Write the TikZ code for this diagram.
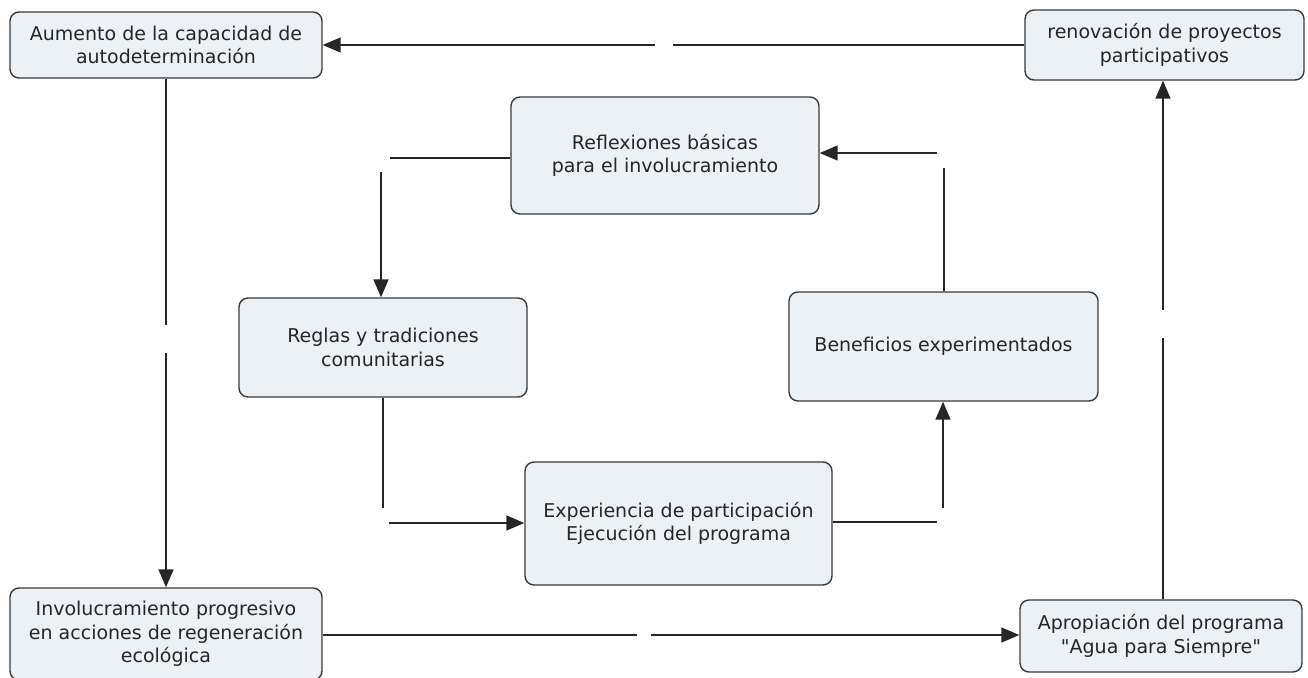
\documentclass[tikz,border=0pt]{standalone}
\usepackage{fontspec}
\setmainfont{DejaVu Sans}[Ligatures=TeXOff]
\usetikzlibrary{arrows.meta}
\definecolor{boxfill}{HTML}{EBF1F5}
\definecolor{boxline}{HTML}{3A3A3A}
\tikzset{
  cbox/.style={draw=boxline, line width=1.4pt, fill=boxfill, rounded corners=9pt,
    align=center, inner sep=0pt, font=\fontsize{19}{23.5}\selectfont, text=black!85},
  link/.style={draw=black!85, line width=1.5pt},
  arr/.style={link, -{Triangle[length=18pt,width=15pt]}}
}
\begin{document}
\begin{tikzpicture}[x=1pt,y=-1pt]
\useasboundingbox (0,0) rectangle (1308,677);
% boxes
\node[cbox, minimum width=312pt, minimum height=66pt] (aum) at (166,45)
  {Aumento de la capacidad de\\autodeterminación};
\node[cbox, minimum width=279pt, minimum height=70pt] (ren) at (1164.5,45)
  {renovación de proyectos\\participativos};
\node[cbox, minimum width=308pt, minimum height=117pt] (refl) at (665,155.5)
  {Reflexiones básicas\\para el involucramiento};
\node[cbox, minimum width=288pt, minimum height=99pt] (regl) at (383,347.5)
  {Reglas y tradiciones\\comunitarias};
\node[cbox, minimum width=309pt, minimum height=109pt] (ben) at (943.5,346.5)
  {Beneficios experimentados};
\node[cbox, minimum width=307pt, minimum height=123pt] (exp) at (678.5,523.5)
  {Experiencia de participación\\Ejecución del programa};
\node[cbox, minimum width=312pt, minimum height=92pt] (inv) at (166,634)
  {Involucramiento progresivo\\en acciones de regeneración\\ecológica};
\node[cbox, minimum width=282pt, minimum height=72pt] (apr) at (1161,636)
  {Apropiación del programa\\"Agua para Siempre"};
% gap coordinates
\coordinate (a1) at (673,45);   \coordinate (a2) at (655,45);
\coordinate (b1) at (166,325);  \coordinate (b2) at (166,353);
\coordinate (c1) at (637,635);  \coordinate (c2) at (651,635);
\coordinate (d1) at (1163,338); \coordinate (d2) at (1163,310);
\coordinate (e1) at (390,158);  \coordinate (e2) at (381,172);
\coordinate (f1) at (383,508);  \coordinate (f2) at (389,523);
\coordinate (g1) at (937,522);  \coordinate (g2) at (943,508);
\coordinate (h1) at (944,168);  \coordinate (h2) at (937,153);
% outer loop
\draw[link] (ren.west |- a1) -- (a1);
\draw[arr] (a2) -- (aum.east |- a2);
\draw[link] (aum.south -| b1) -- (b1);
\draw[arr] (b2) -- (inv.north -| b2);
\draw[link] (inv.east |- c1) -- (c1);
\draw[arr] (c2) -- (apr.west |- c2);
\draw[link] (apr.north -| d1) -- (d1);
\draw[arr] (d2) -- (ren.south -| d2);
% inner loop
\draw[link] (refl.west |- e1) -- (e1);
\draw[arr] (e2) -- (regl.north -| e2);
\draw[link] (regl.south -| f1) -- (f1);
\draw[arr] (f2) -- (exp.west |- f2);
\draw[link] (exp.east |- g1) -- (g1);
\draw[arr] (g2) -- (ben.south -| g2);
\draw[link] (ben.north -| h1) -- (h1);
\draw[arr] (h2) -- (refl.east |- h2);
\end{tikzpicture}
\end{document}
